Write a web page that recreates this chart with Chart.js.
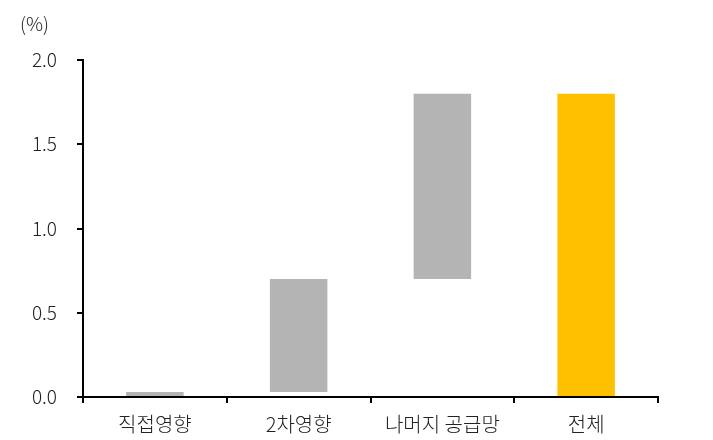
<!DOCTYPE html>
<html>
<head>
<meta charset="utf-8">
<script src="https://cdn.jsdelivr.net/npm/chart.js@4"></script>
<style>
html,body{margin:0;padding:0;background:#fff;}
#wrap{width:713px;height:440px;position:relative;}
</style>
</head>
<body>
<div id="wrap"><canvas id="c" width="713" height="440"></canvas></div>
<script>
const categories = ['직접영향', '2차영향', '나머지 공급망', '전체'];
const barStart = [0, 0.03, 0.70, 0];
const barEnd = [0.03, 0.70, 1.80, 1.80];
const barColors = ['#B4B4B4', '#B4B4B4', '#B4B4B4', '#FFC000'];
const yUnit = '(%)';

const FONT = "'Noto Sans CJK KR', 'Noto Sans', sans-serif";

const unitPlugin = {
  id: 'unitLabel',
  afterDraw(chart) {
    const ctx = chart.ctx;
    ctx.save();
    ctx.font = '300 19px ' + FONT;
    ctx.fillStyle = '#222';
    ctx.textAlign = 'left';
    ctx.textBaseline = 'middle';
    ctx.fillText(yUnit, 20, 24);
    ctx.restore();
  }
};

new Chart(document.getElementById('c'), {
  type: 'bar',
  data: {
    labels: categories,
    datasets: [{
      data: categories.map((_, i) => [barStart[i], barEnd[i]]),
      backgroundColor: barColors,
      borderWidth: 0,
      barPercentage: 0.4,
      categoryPercentage: 1.0
    }]
  },
  options: {
    responsive: false,
    animation: false,
    devicePixelRatio: 1,
    layout: { padding: { left: 0, right: 55, top: 60, bottom: 0 } },
    plugins: { legend: { display: false }, tooltip: { enabled: false } },
    scales: {
      x: {
        afterFit(s) { s.height = 43; },
        border: { display: true, color: '#000', width: 2 },
        grid: { display: true, drawOnChartArea: false, drawTicks: true, tickLength: 6, color: '#000', lineWidth: 2, offset: true },
        ticks: { color: '#222', font: { family: FONT, size: 20, weight: 300 }, padding: 9 }
      },
      y: {
        min: 0, max: 2.0,
        afterFit(s) { s.width = 83; },
        border: { display: true, color: '#000', width: 2 },
        grid: { display: true, drawOnChartArea: false, drawTicks: true, tickLength: 6, color: '#000', lineWidth: 2 },
        ticks: { stepSize: 0.5, color: '#222', font: { family: FONT, size: 19, weight: 300 }, padding: 20,
          callback: v => Number(v).toFixed(1) }
      }
    }
  },
  plugins: [unitPlugin]
});
</script>
</body>
</html>
